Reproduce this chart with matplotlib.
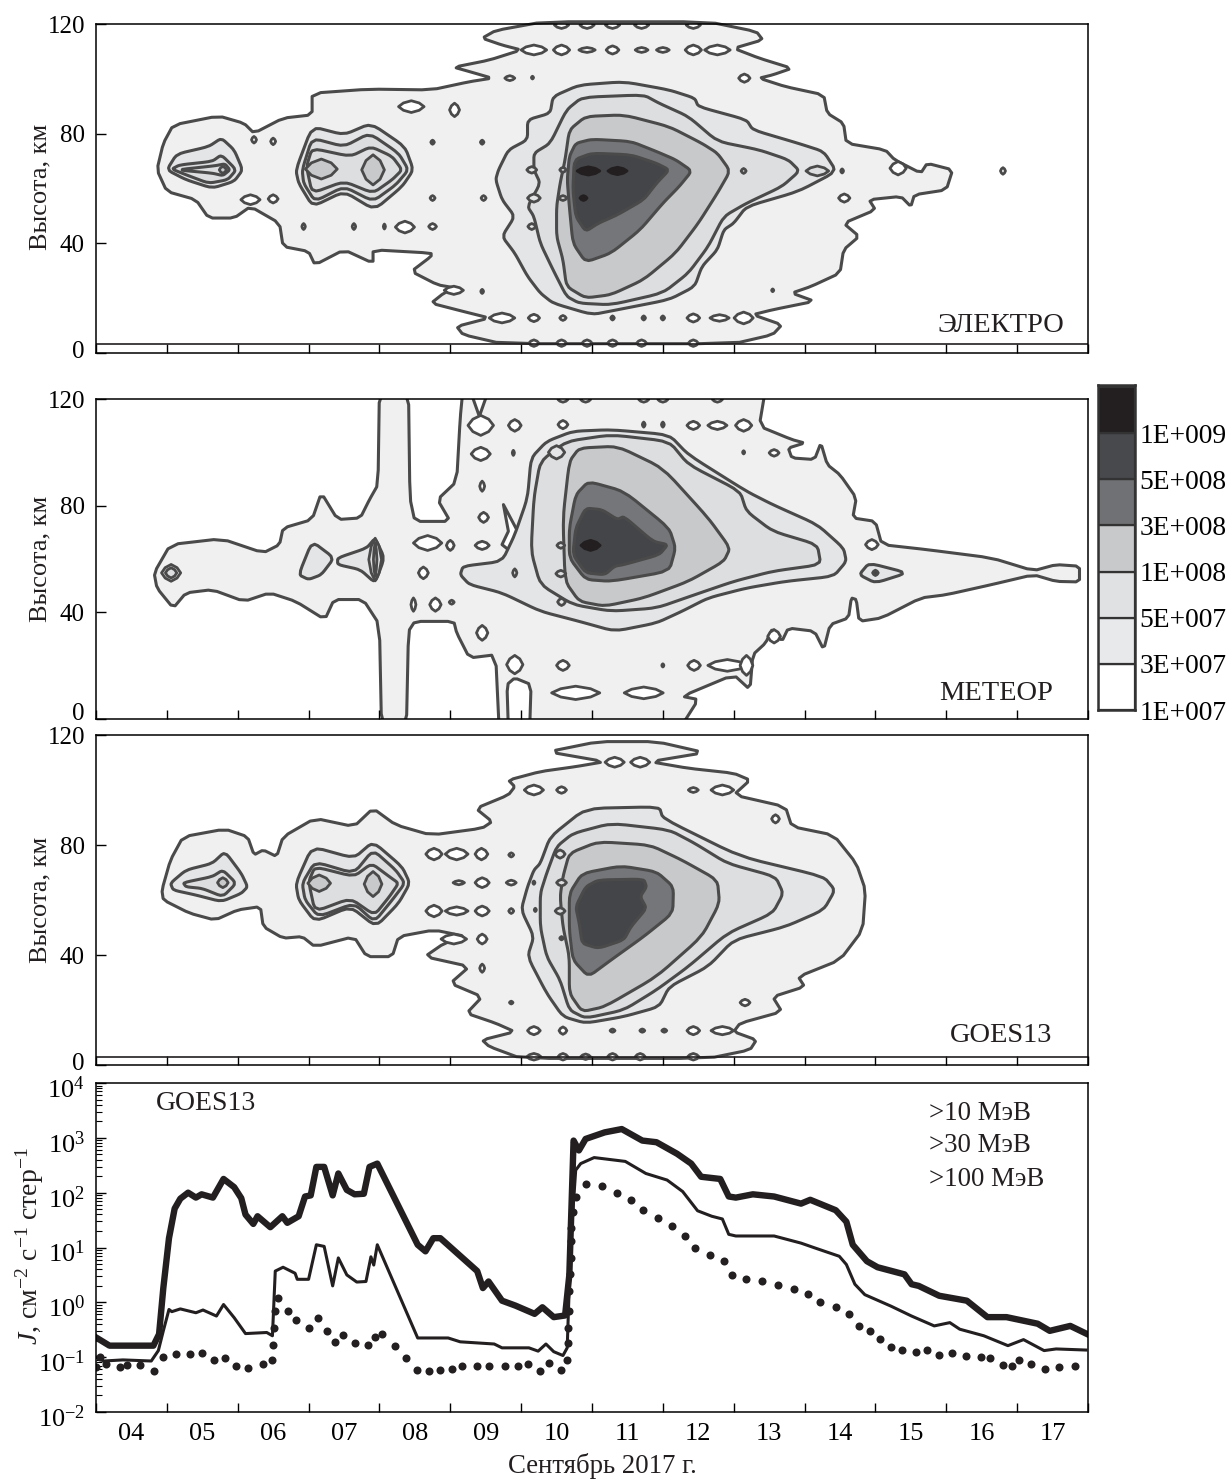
import matplotlib
matplotlib.use("Agg")
import matplotlib.pyplot as plt
import matplotlib.ticker
from matplotlib.transforms import ScaledTranslation
import numpy as np

plt.rcParams["font.family"] = ["Liberation Serif", "DejaVu Serif"]
plt.rcParams["mathtext.fontset"] = "custom"
plt.rcParams["mathtext.rm"] = "Liberation Serif"
plt.rcParams["mathtext.it"] = "Liberation Serif:italic"
plt.rcParams["mathtext.default"] = "rm"

W, H = 1229, 1480

# fill colours of the flux levels, white = below 1E+007
level_colors = ["#ffffff", "#f0f0f1", "#e4e5e7", "#dddee0", "#c8c9cb", "#757679", "#444548", "#231f20"]
legend_colors = ["#ffffff", "#e8e9eb", "#e0e1e3", "#c8c9cb", "#6f7174", "#47494c", "#231f20"]
legend_labels = ["1E+007", "3E+007", "5E+007", "1E+008", "3E+008", "5E+008", "1E+009"]
LINE = "#4a4a4a"

# ---- ЭЛЕКТРО: contours as (day, km) ----
el_contours = [
    (1, [(4.86,66.9),(4.95,76.6),(5.09,83.3),(5.73,86.6),(6.09,83.9),(6.23,80.3),(6.64,85.8),(7.05,87),(7.05,94.9),(7.86,96.4),(8.73,96.1),(9.27,99.1),(9.59,100.4),(9.27,102.8),(9.05,104.4),(9.55,107),(10.0,110.7),(9.73,112.5),(9.45,115),(9.64,117.8),(10.32,121),(12.64,121),(13.32,117.4),(13.41,114.4),(13.0,111.3),(13.36,107.7),(13.82,104),(13.55,101.6),(13.36,100.4),(13.73,97.3),(14.27,94.3),(14.32,87.6),(14.55,83.9),(14.59,76.6),(15.14,74.2),(15.27,70.6),(15.64,65.7),(15.73,69.3),(16.09,66.9),(16.0,59.6),(15.55,57.8),(15.5,53.5),(15.36,57.2),(14.91,56),(15.0,52.3),(14.55,47.4),(14.77,42.6),(14.55,37.7),(14.5,29.2),(14.09,24.3),(13.82,21.9),(14.14,18.9),(13.55,15.8),(13.27,14),(13.68,10.3),(13.55,6.7),(13.0,3.4),(9.73,3.4),(9.18,6.7),(9.09,9.7),(9.55,12.8),(9.18,15.2),(8.73,18.2),(8.91,21.9),(9.09,23.7),(8.82,24.9),(8.45,29.8),(8.73,35.3),(8.73,36.5),(7.91,37.7),(7.91,32.8),(7.5,37.7),(7.09,32.2),(7.0,37.1),(6.64,38.9),(6.59,47.4),(6.18,53.5),(5.95,49.3),(5.59,49.3),(5.41,56),(5.0,59)]),
    (2, [(9.68,66.9),(9.82,74.2),(10.09,77.9),(10.09,85.2),(10.41,87.6),(10.45,93.7),(10.82,97.9),(11.45,99.1),(12.09,96.1),(12.45,93.1),(12.5,90),(13.18,85.2),(13.27,81.5),(13.91,76.6),(14.27,73.6),(14.45,66.3),(13.91,59),(13.18,53.5),(13.0,47.4),(12.86,45),(12.77,37.7),(12.55,31.6),(12.45,24.3),(12.09,19.5),(11.36,15.8),(11.0,14),(10.45,18.2),(10.27,21.9),(10.09,28),(9.91,36.5),(9.73,42.6),(9.91,49.9),(9.73,56),(9.64,63.3)]),
    (3, [(10.18,73),(10.41,76.6),(10.64,88.8),(10.86,93.4),(11.73,94.3),(11.95,91.2),(12.36,86.4),(12.77,77.3),(13.36,74.2),(13.77,70.6),(13.93,66.5),(13.68,60.8),(13.18,54.7),(12.86,49.9),(12.64,38.9),(12.36,29.2),(12,21.9),(11.27,17.6),(10.82,18.2),(10.64,20.7),(10.45,30.4),(10.27,40.1),(10.18,49.9),(10.09,53.5),(10.27,62),(10.18,66.9)]),
    (4, [(10.62,70.6),(10.68,81.5),(10.91,86.4),(11.45,87),(12.09,82.7),(12.55,76.6),(12.77,73),(12.95,66.5),(12.77,58.4),(12.5,47.4),(12.18,36.5),(11.73,26.8),(11.27,21.3),(10.91,20.1),(10.64,24.3),(10.59,34.1),(10.5,42.6),(10.5,53.5),(10.55,62)]),
    (5, [(10.68,71.8),(10.77,76.6),(11,78.1),(11.55,77.3),(11.91,73.6),(12.18,70.6),(12.41,66.5),(12.23,60.8),(12,54.7),(11.68,45),(11.27,36.5),(10.91,33.2),(10.73,40.1),(10.68,53.5),(10.65,63.3)]),
    (6, [(10.75,70.6),(11,73),(11.55,72.4),(11.91,69.3),(12.09,66.9),(11.91,62),(11.73,56),(11.36,50.5),(11.09,47.4),(10.91,44.4),(10.77,49.9),(10.73,59.6)]),
    (2, [(5,66.9),(5.14,72.7),(5.59,75.4),(5.77,78.5),(5.95,74.2),(6.07,66.9),(5.95,62.7),(5.64,60.2),(5.27,63.3)]),
    (3, [(5.07,67.2),(5.18,68.7),(5.64,70),(5.77,72.4),(5.98,66.9),(5.86,63.3),(5.59,62),(5.27,65.1)]),
    (3, [(5.14,66.9),(5.68,68.4),(5.82,69.1),(5.89,66.9),(5.79,64.8),(5.64,65.7)]),
    (2, [(6.82,66.9),(7.05,82.7),(7.5,79.7),(7.88,83.9),(8.36,75.4),(8.48,66.9),(8.32,60.8),(7.93,52.3),(7.5,59),(7.06,53.5),(6.86,62)]),
    (3, [(6.91,66.9),(7.05,78.5),(7.5,75.4),(7.86,80.3),(8.27,73),(8.41,66.9),(8.23,61.4),(7.91,55.4),(7.5,60.8),(7.09,55.4),(6.93,62)]),
    (3, [(6.97,68.1),(7.05,74.8),(7.59,71.8),(7.88,75.4),(8.18,71.8),(8.32,66.9),(8.18,63.3),(7.91,58.4),(7.5,62.7),(7.05,58.4)]),
]
# small closed contours: day, km, width (days), height (km), level
el_spots = [
    (10.18,110.7,.36,3.6,0),(10.57,110.7,.23,3.6,0),(10.93,110.7,.23,1.8,0),(11.29,110.7,.18,3,0),(11.7,110.7,.18,1.8,0),(12,110.7,.18,1.8,0),(12.43,110.7,.23,3.6,0),(12.77,110.7,.36,3.6,0),
    (10.57,119.8,.2,2.5,0),(10.93,119.8,.2,2.5,0),(11.29,119.8,.2,2.5,0),(11.7,119.8,.2,2.5,0),(12.43,119.8,.2,2.5,0),
    (9.84,100.4,.14,1.8,0),(10.16,100.6,.03,1,0),(13.15,100.4,.16,3,0),(8.45,90,.36,4.3,0),(9.06,88.8,.14,4.9,0),
    (6.23,77.9,.07,2.4,0),(6.5,77.3,.07,2.4,0),(8.75,77,.05,1.5,0),(9.45,77,.05,1.5,0),
    (6.5,56.3,.14,3,0),(6.18,56,.27,3.6,0),(8.75,56.6,.07,1.8,0),(9.47,56.6,.07,1.8,0),
    (6.93,46.2,.05,2.2,0),(7.64,46.2,.05,2.2,0),(8.07,46.2,.03,1.8,0),(8.36,46,.27,4.3,0),(8.75,46.2,.11,2.2,0),
    (9.05,22.9,.27,3,0),(9.45,22.5,.04,1.5,0),(13.55,22.9,.03,1,0),(14.53,66.5,.04,1.5,0),(14.56,56.6,.16,3,0),(15.32,67.5,.23,4.9,0),(16.8,66.5,.07,2.4,0),
    (9.73,12.8,.36,3.6,0),(10.18,12.8,.16,2.7,0),(10.59,12.8,.09,1.8,0),(11.29,12.8,.05,1.5,0),(11.73,12.8,.05,1.5,0),(12,12.8,.05,1.5,0),(12.43,12.8,.18,3,0),(12.8,12.8,.27,2.4,0),(13.14,12.8,.27,4.3,0),
    (10.18,3.6,.14,2.4,0),(10.57,3.6,.14,2.4,0),(10.93,3.6,.14,2.4,0),(11.29,3.6,.14,2.4,0),(11.7,3.6,.14,2.4,0),(12.43,3.6,.14,2.4,0),
    (10.15,66.9,.14,2.4,2),(10.59,66.9,.09,1.8,3),(10.18,56.6,.18,3,2),(10.59,56.6,.11,1.8,3),(10.15,46.2,.11,2.2,2),(13.14,66.5,.07,1.8,3),
    (14.18,66.5,.32,3.6,3),(5.79,66.9,.1,2.5,4),(7.18,67.2,.45,7.3,4),(7.91,66.9,.32,11,4),
    (10.95,66.5,.32,3,7),(11.36,66.5,.27,2.7,7),(10.88,56.6,.1,1.8,7),
]

# ---- МЕТЕОР ----
met_contours = [
    (1, [(4.82,54.8),(5.05,65.4),(5.77,67.6),(6.36,62.3),(6.59,65.4),(6.64,71.6),(7.05,74.8),(7.18,84.8),(7.41,74.8),(7.73,75.4),(7.86,82.3),(7.98,87.9),(8,124),(8.41,124),(8.43,82.9),(8.5,74.1),(9,74.1),(8.82,82.3),(9.09,89.1),(9.14,112.9),(9.18,124),(13.45,124),(13.36,109.8),(13.82,104.8),(14,103.5),(13.77,101.6),(13.82,97.9),(14.14,97.3),(14.23,103.5),(14.32,95.4),(14.5,91.6),(14.73,82.9),(14.68,75.4),(15,74.1),(15.09,65.4),(15.73,63.5),(16.64,60.4),(17.23,55.6),(17.55,57.9),(17.88,57.3),(17.88,51.4),(17.55,51.6),(17.23,54.1),(16.64,50.4),(16,46.6),(15.64,45.4),(15.09,37.9),(14.77,36.6),(14.73,44.8),(14.66,45.4),(14.62,37.9),(14.36,35.4),(14.27,26),(14.14,32.9),(13.77,34.1),(13.68,29.1),(13.55,34.1),(13.45,28.5),(13.27,24.1),(13.23,11),(13,16.6),(12.27,8.5),(12.5,7.3),(12.23,-4),(10.12,-4),(10.14,12.9),(9.91,15.4),(9.8,12.9),(9.82,-4),(9.69,-4),(9.64,24.1),(9.27,22.9),(9.09,32.3),(9.05,36.6),(8.5,36.6),(8.41,32.9),(8.38,-4),(8.03,-4),(8,35.4),(7.77,44.8),(7.36,44.8),(7.23,37.3),(6.82,44.1),(6.45,47.3),(6.09,44.1),(5.64,48.5),(5.27,47.3),(5.09,41.6),(4.86,49.1)]),
    (0, [(9.27,124),(9.41,113.5),(9.55,124)]),
    (0, [(9.75,80.4),(10.05,65.4),(9.91,61.6),(9.73,65.4),(9.82,70.4)]),
    (2, [(9.18,57.3),(9.73,59.1),(9.91,69.1),(10.09,82.9),(10.14,97.9),(10.36,104.1),(10.73,107.9),(11.27,108.5),(12.09,106.6),(12.36,99.1),(13.18,85.4),(13.55,80.4),(14.18,72.9),(14.55,64.1),(14.59,59.1),(14.41,53.5),(13.73,51.6),(13.18,49.1),(12.64,45.4),(12.27,40.4),(11.91,36),(11.32,32.9),(10.82,36.6),(10.27,40.4),(9.73,47.3),(9.27,50.4),(9.14,54.1)]),
    (3, [(10.14,62.9),(10.18,82.9),(10.27,96.6),(10.64,104.1),(11.27,106.6),(12.09,104.1),(12.36,95.4),(13.09,85.4),(13.18,77.9),(13.55,70.4),(14.18,65.4),(14.23,57.9),(13.55,55.4),(13,51.6),(12.45,46.6),(11.91,41.6),(11.27,40.4),(10.73,42.9),(10.27,50.4)]),
    (4, [(10.68,96.6),(10.82,101.6),(11.36,102.3),(12,94.1),(12.64,75.4),(12.95,64.1),(12.86,59.1),(12.36,51.6),(11.73,45.4),(11.18,42.3),(10.82,44.1),(10.62,51.6),(10.59,75.4)]),
    (5, [(10.77,84.1),(10.95,89.1),(11.45,85.4),(12.09,71.6),(12.18,64.1),(12.09,55.4),(11.27,51.6),(10.91,52.3),(10.68,60.4),(10.68,71.6)]),
    (6, [(10.77,71.6),(10.91,79.1),(11.14,78.5),(11.36,74.8),(11.45,76),(11.86,66.6),(12.07,65.4),(11.95,61.6),(11.45,57.9),(11.32,57.3),(11.18,54.1),(10.91,54.8),(10.73,61.6)]),
    (2, [(6.86,54.1),(7.05,66.6),(7.36,60.4),(7.18,54.1),(7,52.3)]),
    (2, [(7.41,60.4),(7.82,64.1),(7.94,67.9),(8.07,60.4),(7.94,51),(7.73,56),(7.41,57.9)]),
    (2, [(14.77,54.1),(14.91,58.5),(15.45,54.8),(15,51)]),
]
met_spots = [
    (9.43,110.1,.36,7.5,0),(9.91,110.1,.18,4.4,0),(10.59,110.4,.14,3.1,0),(11.73,110.4,.04,1.9,0),(12,110.4,.04,1.9,0),(12.43,110.1,.18,3.1,0),(12.77,110.1,.27,3.1,0),(13.14,110.1,.23,4.4,0),
    (10.59,119.8,.14,2,0),(10.91,119.8,.14,2,0),(11.73,119.8,.14,2,0),(12,119.8,.14,2,0),(12.77,119.8,.14,2,0),
    (9.43,99.4,.27,5,0),(9.89,99.8,.03,1.9,0),(13.14,100,.03,1.2,0),(13.57,99.8,.14,2.5,0),(9.45,87.3,.07,3.8,0),(9.47,75.6,.14,3.8,0),(9.45,65.1,.2,3.1,0),
    (9.91,54.8,.06,3,0),(9,65.1,.11,3.8,0),(8.68,66,.4,5.6,0),(8.62,54.8,.14,4.4,0),(8.48,42.9,.07,5,0),(8.79,42.9,.16,5,0),(9.02,43.8,.07,1.5,0),(9.45,32.3,.16,5.6,0),
    (9.91,20.4,.23,6.9,0),(10.59,20.1,.18,3.8,0),(12,20.1,.03,1.2,0),(12.44,20.1,.18,3.8,0),(12.91,20.1,.55,4.4,0),(13.18,20.1,.18,7.5,0),(13.57,31,.18,5,0),(10.77,9.8,.68,5,0),(11.73,9.8,.55,4.4,0),(14.95,65.4,.18,3.8,0),
    (10.5,100,.23,5,2),(10.56,65.1,.11,2.2,3),(10.56,54.5,.14,2.5,3),(10.57,43.9,.11,2.7,2),
    (5.06,54.8,.27,6.3,2),(5.06,54.8,.16,3.8,3),(7.94,59.8,.18,16,3),(7.94,59.8,.05,12.5,4),(15.0,54.8,.08,2,6),(10.98,65.1,.27,3.8,7),
]

# ---- GOES13 ----
goes_contours = [
    (1, [(4.93,63.6),(5.05,74.5),(5.23,83),(5.82,85.8),(6.14,83),(6.23,76.4),(6.36,78.2),(6.55,75.8),(6.64,83),(7.09,89.7),(7.64,86.7),(7.91,93.3),(8.23,87.3),(8.73,83.6),(9.45,86.1),(9.59,88.5),(9.36,93.3),(9.82,98.2),(9.91,101.2),(9.82,103.6),(10.27,106.7),(10.77,108.5),(11.18,110.3),(10.38,113.9),(11.09,117.6),(11.91,117.6),(12.59,113.6),(11.82,110.3),(12.36,107.9),(13,106.1),(13.23,103.6),(13,98.2),(13.73,93.9),(13.82,86.7),(14.41,83.6),(14.73,73.3),(14.86,63.6),(14.82,49.1),(14.5,38.2),(13.91,32.1),(14,28.5),(13.55,24.8),(13.68,19.4),(13.09,15.2),(13,12.1),(13.32,9.1),(13.23,5.5),(12.64,2.4),(10,2.4),(9.55,6.7),(9.45,9.1),(9.91,12.1),(9.64,15.2),(9.23,18.8),(9.45,24.8),(9,29.7),(9.27,35.8),(8.64,39.4),(8.91,44.2),(9.23,46.7),(8.77,49.1),(8.27,46.7),(8.18,39.4),(7.82,39.4),(7.64,46.7),(7.09,43),(6.91,46.7),(6.64,46.1),(6.36,50.3),(6.32,57.6),(6,56.4),(5.68,52.7),(5.32,55.2),(4.95,60)]),
    (2, [(10.27,73.3),(10.41,83),(10.91,93.3),(11.95,93.9),(12,89.7),(13.09,75.8),(14.27,68.5),(14.43,63.6),(14.27,56.4),(13.73,50.3),(13,45.5),(12.64,35.8),(12.09,28.5),(11.95,21.2),(11.45,17.6),(10.91,15.2),(10.59,17.6),(10.36,26.1),(10.09,39.4),(10.18,46.7),(10,56.4),(10.09,64.8),(10.18,70.9)]),
    (3, [(10.36,69.7),(10.5,79.4),(10.73,84.2),(11.27,87.9),(12.09,85.5),(12.45,80.6),(12.91,73.3),(13.59,68.5),(13.7,62.4),(13.55,55.2),(12.91,47.9),(12.36,35.8),(11.91,27.3),(11.45,20),(10.91,17),(10.68,20),(10.55,30.9),(10.36,39.4),(10.27,50.3),(10.27,62.4)]),
    (4, [(10.59,68.5),(10.68,77),(11.09,81.2),(11.82,80),(12.27,74.5),(12.77,67.3),(12.8,58.8),(12.55,46.7),(11.91,32.1),(11.18,21.2),(10.86,19.4),(10.68,26.1),(10.68,39.4),(10.59,50.3),(10.55,61.2)]),
    (5, [(10.68,62.4),(10.86,69.7),(11.41,72.4),(11.91,70.3),(12.15,64.8),(12.14,55.2),(11.73,46.7),(11.27,38.2),(10.95,32.1),(10.73,38.2),(10.68,49.1)]),
    (6, [(10.91,64.8),(11.09,67.3),(11.73,67.6),(11.77,64.8),(11.68,61.2),(11.77,57),(11.55,50.3),(11.45,45.5),(11.09,42.4),(10.86,44.2),(10.82,51.5),(10.77,57.6)]),
    (2, [(5.05,66.1),(5.27,70.9),(5.64,73.3),(5.82,77.6),(6.05,69.7),(6.14,64.8),(6.05,62.4),(5.77,59.4),(5.41,61.8),(5.09,63.6)]),
    (3, [(5.23,66.3),(5.64,68.5),(5.79,70.9),(5.98,66.1),(5.79,61.2),(5.5,64.2),(5.27,64.8)]),
    (2, [(6.82,66.1),(7.05,79.4),(7.64,75.2),(7.91,81.2),(8.32,72.1),(8.43,66.1),(8.27,58.8),(7.95,50.3),(7.59,57.6),(7.09,52.1),(6.86,60)]),
    (3, [(6.91,66.1),(7.09,73.9),(7.64,69.7),(7.91,78.2),(8.23,70.9),(8.36,66.1),(8.18,60),(7.93,52.1),(7.64,58.8),(7.14,53.9),(6.95,60)]),
    (3, [(7,66.7),(7.09,72.1),(7.64,68.5),(7.89,73.3),(8.14,68.5),(8.27,66.1),(8.14,61.2),(7.93,54.5),(7.59,60.6),(7.09,55.8)]),
]
goes_spots = [
    (11.32,110.1,.27,3.6,0),(11.68,110.1,.27,3.6,0),(10.18,100,.27,3.6,0),(10.57,100,.14,2.4,0),(12.43,100,.14,1.8,0),(12.84,100,.32,3.6,0),(13.59,89.5,.11,3,0),
    (8.77,76.7,.23,4.2,0),(9.09,76.7,.32,4.2,0),(9.44,76.7,.18,4.2,0),(9.86,76.4,.07,1.5,0),(9.12,66.3,.16,1.5,0),(9.45,66.3,.2,3.6,0),(9.86,66.3,.14,1.8,0),(10.18,66.3,.03,1.2,0),
    (8.77,56,.23,4.2,0),(9.09,56,.32,3,0),(9.45,56,.2,3.6,0),(9.86,56,.07,1.8,0),(10.2,56.4,.03,1.2,0),(9.45,45.8,.14,3.6,0),(9.05,45.8,.36,3.6,0),(9.45,35.2,.07,3,0),(9.86,22.7,.05,1,0),(13.16,22.7,.14,2.4,0),
    (10.18,12.5,.18,3,0),(10.59,12.5,.11,2.7,0),(11.29,12.5,.07,1.2,0),(11.71,12.5,.07,1.2,0),(12.02,12.5,.07,1.2,0),(12.43,12.5,.18,3,0),(12.84,12.5,.32,3,0),
    (10.18,3,.2,2.4,0),(10.59,3,.14,2.4,0),(10.91,3,.14,2,0),(11.29,3,.14,2.4,0),(11.68,3,.14,2.4,0),(12.43,3,.16,2.4,0),
    (10.55,76.7,.14,3,2),(10.57,66.3,.14,2.4,3),(10.55,56,.14,2.4,3),(10.57,46.1,.05,1.2,3),
    (5.79,66.3,.15,3.6,4),(7.15,66.1,.32,6,4),(7.91,65.8,.25,9.1,4),
]

# ---- particle flux, GOES13: day of September, log10 J ----
j10_day = [4.0,4.19,4.81,4.89,4.95,5.03,5.11,5.19,5.3,5.41,5.49,5.65,5.8,5.95,6.05,6.11,6.22,6.28,6.46,6.63,6.7,6.86,6.95,7.03,7.11,7.22,7.34,7.42,7.54,7.65,7.78,7.86,7.97,8.54,8.65,8.76,8.86,9.38,9.46,9.54,9.73,9.92,10.19,10.3,10.46,10.62,10.68,10.74,10.815,10.91,11.18,11.42,11.71,11.91,12.2,12.4,12.54,12.81,12.93,13.03,13.27,13.57,13.95,14.08,14.44,14.59,14.68,14.88,15.03,15.41,15.51,15.61,15.9,16.29,16.58,16.85,17.29,17.46,17.75,17.99]
j10_log = [-0.64,-0.79,-0.79,-0.58,0.26,1.17,1.71,1.89,2.0,1.91,1.97,1.91,2.25,2.1,1.9,1.6,1.43,1.57,1.37,1.57,1.45,1.57,1.93,1.95,2.47,2.47,1.95,2.35,2.05,1.97,1.98,2.47,2.53,1.05,0.93,1.17,1.17,0.57,0.26,0.38,0.03,-0.06,-0.21,-0.09,-0.27,-0.24,0.5,2.95,2.77,2.98,3.1,3.16,2.95,2.92,2.71,2.53,2.29,2.25,1.93,1.91,1.97,1.93,1.8,1.87,1.68,1.47,1.05,0.75,0.64,0.51,0.33,0.3,0.12,0.03,-0.27,-0.27,-0.39,-0.52,-0.43,-0.58]

j30_day = [4.0,4.11,4.38,4.78,4.88,4.95,5.03,5.07,5.19,5.41,5.51,5.7,5.8,5.95,6.11,6.41,6.49,6.53,6.64,6.81,6.84,7.0,7.11,7.22,7.34,7.42,7.54,7.68,7.81,7.88,7.92,7.97,8.54,8.81,8.97,9.14,9.62,9.73,10.11,10.24,10.35,10.46,10.59,10.65,10.7,10.77,10.84,11.03,11.47,11.76,12.06,12.28,12.49,12.69,12.84,12.93,13.03,13.57,13.95,14.15,14.49,14.59,14.71,14.85,15.22,15.51,15.83,16.05,16.19,16.53,16.87,17.09,17.38,17.55,17.97]
j30_log = [-1.0,-1.07,-1.05,-1.07,-0.88,-0.52,-0.13,-0.17,-0.12,-0.19,-0.14,-0.25,-0.04,-0.28,-0.57,-0.55,-0.61,0.57,0.64,0.53,0.42,0.42,1.05,1.02,0.3,0.81,0.5,0.37,0.38,0.83,0.68,1.05,-0.65,-0.65,-0.65,-0.72,-0.76,-0.83,-0.83,-0.89,-0.76,-0.9,-0.97,-0.83,1.1,2.41,2.53,2.64,2.57,2.35,2.23,2.02,1.67,1.57,1.52,1.24,1.21,1.21,1.08,0.99,0.84,0.69,0.33,0.14,-0.07,-0.25,-0.43,-0.37,-0.49,-0.61,-0.79,-0.68,-0.88,-0.85,-0.87]

j100_day = [4.0,4.06,4.14,4.34,4.44,4.62,4.82,4.94,5.13,5.32,5.49,5.66,5.82,5.97,6.14,6.36,6.48,6.5,6.51,6.53,6.57,6.71,6.82,7.0,7.14,7.26,7.38,7.49,7.66,7.84,7.94,8.04,8.22,8.38,8.53,8.7,8.86,9.03,9.17,9.38,9.55,9.77,9.95,10.1,10.26,10.39,10.56,10.65,10.66,10.66,10.67,10.68,10.69,10.7,10.7,10.71,10.73,10.77,10.91,11.14,11.35,11.55,11.72,11.93,12.13,12.31,12.46,12.66,12.86,12.97,13.18,13.4,13.62,13.85,14.05,14.22,14.44,14.63,14.77,14.93,15.06,15.22,15.38,15.57,15.73,15.9,16.08,16.28,16.49,16.62,16.8,16.93,17.03,17.19,17.39,17.59,17.81]
j100_log = [-1.18,-1.0,-1.12,-1.18,-1.15,-1.15,-1.25,-0.99,-0.94,-0.94,-0.93,-1.06,-1.01,-1.17,-1.2,-1.13,-1.06,-0.77,-0.46,-0.16,0.08,-0.15,-0.32,-0.47,-0.29,-0.52,-0.73,-0.6,-0.74,-0.77,-0.64,-0.58,-0.8,-1.02,-1.23,-1.26,-1.23,-1.21,-1.17,-1.17,-1.17,-1.17,-1.17,-1.12,-1.26,-1.1,-1.23,-1.06,-0.75,-0.46,-0.16,0.2,0.51,0.8,1.11,1.35,1.65,1.93,2.15,2.12,2.0,1.86,1.68,1.53,1.4,1.21,1.0,0.86,0.76,0.5,0.43,0.38,0.32,0.25,0.16,0.01,-0.09,-0.22,-0.44,-0.53,-0.67,-0.82,-0.87,-0.91,-0.87,-0.96,-0.93,-0.98,-0.99,-1.02,-1.14,-1.17,-1.06,-1.12,-1.22,-1.18,-1.17]

days = np.arange(4, 19)
day_labels = ["04", "05", "06", "07", "08", "09", "10", "11", "12", "13", "14", "15", "16", "17"]
alt_ticks = [0, 40, 80, 120]
flux_ticks = [1e-2, 1e-1, 1e0, 1e1, 1e2, 1e3, 1e4]
energy_labels = [">10 МэВ", ">30 МэВ", ">100 МэВ"]


def px_axes(fig, left, top, right, bottom):
    return fig.add_axes([left / W, 1 - bottom / H, (right - left) / W, (bottom - top) / H])


def corner_cut(pts, n):
    # rounds the closed outline a little, the way the gridded contours look
    p = np.array(pts, dtype=float)
    for _ in range(n):
        q = np.roll(p, -1, axis=0)
        p = np.column_stack([0.85 * p + 0.15 * q, 0.15 * p + 0.85 * q]).reshape(-1, 2)
    return p


def draw_contours(ax, contours, spots, clip=False):
    for level, pts in contours:
        n = 0 if level == 0 else (1 if level == 1 else 2)
        p = corner_cut(pts, n)
        ax.fill(p[:, 0], p[:, 1], facecolor=level_colors[level], edgecolor=LINE, linewidth=2.2,
                joinstyle="round", clip_on=clip)
    for x, y, w, h, level in spots:
        # rounded diamond around the spot centre
        a = np.deg2rad(np.arange(0, 360, 45))
        r = np.where(np.arange(8) % 2 == 0, 0.5, 0.62 * 0.707)
        ax.fill(x + w * r * np.cos(a), y + h * r * np.sin(a), facecolor=level_colors[level],
                edgecolor=LINE if level < 7 else level_colors[7], linewidth=2.0, joinstyle="round")


def style_alt_axes(ax, name, name_x, name_y, zero_lift):
    ax.set_xlim(4, 18)
    ax.set_ylim(0, 120)
    ax.set_xticks(days)
    ax.set_xticklabels([])
    ax.set_yticks(alt_ticks)
    ax.tick_params(axis="x", direction="in", length=6.5, width=1.0)
    ax.tick_params(axis="y", direction="in", length=7, width=1.0, labelsize=18, pad=8)
    # the 0 label sits above its tick in the figure
    zero = ax.get_yticklabels()[0]
    zero.set_transform(zero.get_transform() + ScaledTranslation(0, zero_lift / 100, fig.dpi_scale_trans))
    for s in ax.spines.values():
        s.set_linewidth(1.1)
        s.set_zorder(5)
    ax.text(name_x / W, 1 - name_y / H, name, transform=fig.transFigure, fontsize=20.5,
            ha="center", va="center", color="#231f20")


fig = plt.figure(figsize=(W / 100, H / 100), dpi=100)

ax1 = px_axes(fig, 96, 24.5, 1088, 353)
draw_contours(ax1, el_contours, el_spots)
ax1.axhline(3.3, color="#231f20", linewidth=1.2)
style_alt_axes(ax1, "ЭЛЕКТРО", 1001, 325, 3)

ax2 = px_axes(fig, 96, 399, 1088, 719)
draw_contours(ax2, met_contours, met_spots, clip=True)
style_alt_axes(ax2, "МЕТЕОР", 996, 693, 8)

ax3 = px_axes(fig, 96, 735, 1088, 1065)
draw_contours(ax3, goes_contours, goes_spots)
ax3.axhline(2.9, color="#231f20", linewidth=1.2)
style_alt_axes(ax3, "GOES13", 1001, 1035, 4)

for ax, yc in [(ax1, 187), (ax2, 559), (ax3, 900)]:
    fig.text(40 / W, 1 - yc / H, "Высота, км", rotation=90, fontsize=19, ha="center", va="center",
             color="#231f20")

# ---- legend of the levels ----
cax = px_axes(fig, 1098, 385, 1135, 710)
for i, c in enumerate(legend_colors):
    cax.bar(0.5, 1, bottom=i, width=1, color=c, edgecolor="#333333", linewidth=1.6)
cax.set_xlim(0, 1)
cax.set_ylim(0, 7.04)
cax.set_xticks([])
cax.yaxis.tick_right()
cax.set_yticks(np.arange(7))
cax.set_yticklabels(legend_labels)
cax.tick_params(axis="y", length=0, pad=3, labelsize=19.8)
for s in cax.spines.values():
    s.set_linewidth(1.8)
    s.set_color("#333333")

# ---- flux panel ----
ax4 = px_axes(fig, 96, 1083, 1088, 1412)
ax4.set_yscale("log")
ax4.plot(j10_day, 10.0 ** np.array(j10_log), color="#231f20", linewidth=4.6, solid_joinstyle="round")
ax4.plot(j30_day, 10.0 ** np.array(j30_log), color="#231f20", linewidth=2.2, solid_joinstyle="round")
ax4.plot(j100_day, 10.0 ** np.array(j100_log), "o", color="#231f20", markersize=5.8, markeredgewidth=0)
ax4.set_xlim(4, 18)
ax4.set_ylim(1e-2, 1e4)
ax4.set_xticks(days)
ax4.set_xticklabels([])
ax4.set_xticks(days[:-1] + 0.5, labels=day_labels, minor=True)
ax4.tick_params(axis="x", which="major", direction="in", length=6.5, width=1.0)
ax4.tick_params(axis="x", which="minor", length=0, labelsize=19, pad=8)
ax4.set_yticks(flux_ticks)
ax4.yaxis.set_minor_locator(matplotlib.ticker.LogLocator(base=10, subs=np.arange(2, 10), numticks=20))
ax4.yaxis.set_minor_formatter(matplotlib.ticker.NullFormatter())
ax4.tick_params(axis="y", which="major", direction="in", length=7, width=1.0, labelsize=19, pad=8)
ax4.tick_params(axis="y", which="minor", direction="in", length=4, width=0.8)
# decade labels sit a little below their ticks
for lab in ax4.get_yticklabels():
    lab.set_transform(lab.get_transform() + ScaledTranslation(0, -4 / 100, fig.dpi_scale_trans))
for s in ax4.spines.values():
    s.set_linewidth(1.1)

fig.text(206 / W, 1 - 1103 / H, "GOES13", fontsize=20, ha="center", va="center", color="#231f20")
for lab, yc in zip(energy_labels, [1113, 1146, 1179]):
    fig.text(929 / W, 1 - yc / H, lab, fontsize=19.4, ha="left", va="center", color="#231f20")
fig.text(30 / W, 1 - 1246 / H, r"$\mathit{J}$, см$^{-2}$ с$^{-1}$ стер$^{-1}$", rotation=90, fontsize=20,
         ha="center", va="center", color="#231f20")
fig.text(602 / W, 1 - 1466 / H, "Сентябрь 2017 г.", fontsize=19.3, ha="center", va="center", color="#231f20")

fig.savefig("out.png", dpi=100)
